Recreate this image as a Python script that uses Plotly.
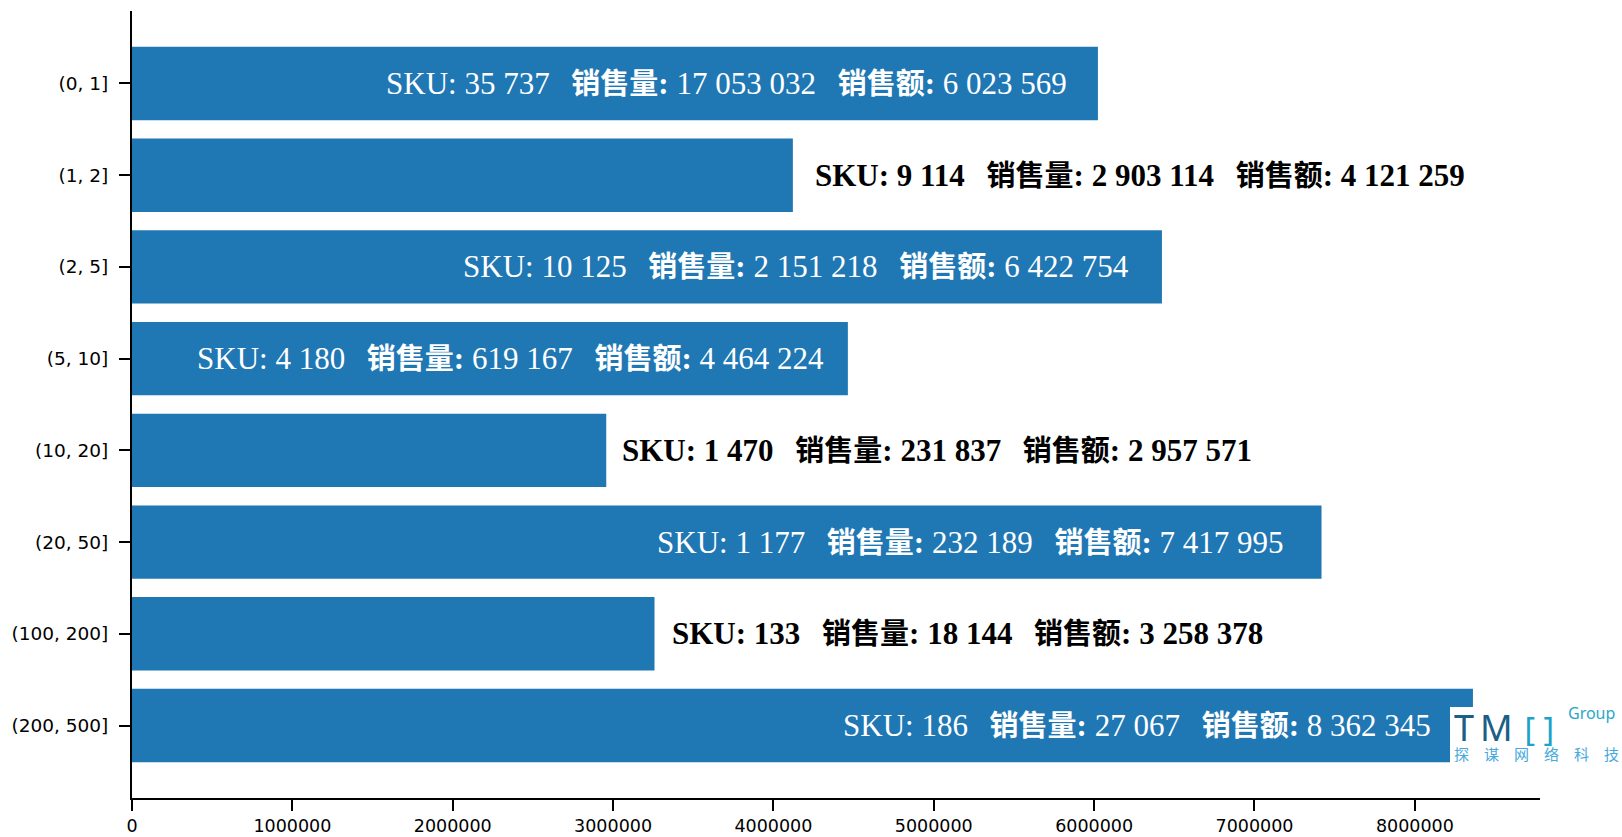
import plotly.graph_objects as go

categories = ["(0, 1]", "(1, 2]", "(2, 5]", "(5, 10]", "(10, 20]", "(20, 50]", "(100, 200]", "(200, 500]"]
sku = [35737, 9114, 10125, 4180, 1470, 1177, 133, 186]
qty = [17053032, 2903114, 2151218, 619167, 231837, 232189, 18144, 27067]
sales = [6023569, 4121259, 6422754, 4464224, 2957571, 7417995, 3258378, 8362345]
x_ticks = [0, 1000000, 2000000, 3000000, 4000000, 5000000, 6000000, 7000000, 8000000]

BAR = "#1f77b4"
L, R, T, B = 132, 82, 11, 39
W, H = 1622, 837
PW, PH = W - L - R, H - T - B


def fmt(v):
    return f"{v:,}".replace(",", " ")


def px(xp):
    return (xp - L) / PW


def py(yp):
    return (H - B - yp) / PH


fig = go.Figure(go.Bar(
    x=sales, y=categories, orientation="h",
    marker=dict(color=BAR, line=dict(width=0)),
    hoverinfo="skip",
))

SEP = "\u00a0\u00a0\u2009"


def cjk(s):
    return f'<b><span style="font-size:29px">{s}</span>:</b>'


annotations = []
for c, s, q, v in zip(categories, sku, qty, sales):
    inside = v > 4300000
    text = f"SKU: {fmt(s)}{SEP}{cjk('销售量')} {fmt(q)}{SEP}{cjk('销售额')} {fmt(v)}"
    if inside:
        annotations.append(dict(x=v * 0.97, y=c, xref="x", yref="y", text=text,
                                showarrow=False, xanchor="right", yanchor="middle",
                                font=dict(family="Liberation Serif, Noto Sans CJK SC", size=31, color="white")))
    else:
        annotations.append(dict(x=v * 1.03, y=c, xref="x", yref="y", text=f"<b>{text}</b>",
                                showarrow=False, xanchor="left", yanchor="middle",
                                font=dict(family="Liberation Serif, Noto Sans CJK SC", size=31, color="black")))

# logo (text-based)
annotations += [
    dict(x=px(1453), y=py(727), xref="paper", yref="paper",
         text='T\u2009M\u2009\u2009<span style="color:#1ba3c9;font-size:32px">[\u00a0]</span>',
         showarrow=False, xanchor="left", yanchor="middle", borderpad=0,
         font=dict(family="Noto Sans", size=36, color="#1b5f86")),
    dict(x=px(1567), y=py(713), xref="paper", yref="paper", text="Group", showarrow=False,
         xanchor="left", yanchor="middle", borderpad=0,
         font=dict(family="Noto Sans", size=16, color="#2aa5cc")),
    dict(x=px(1453), y=py(753), xref="paper", yref="paper",
         text="探\u2003谋\u2003网\u2003络\u2003科\u2003技", showarrow=False,
         xanchor="left", yanchor="middle", borderpad=0,
         font=dict(family="Noto Sans CJK SC", size=15, color="#45a9dc")),
]

shapes = [dict(type="rect", xref="paper", yref="paper", x0=px(1450), x1=px(1640),
               y0=py(772), y1=py(707), fillcolor="white", line=dict(width=0), layer="above")]

fig.update_layout(
    width=W, height=H,
    margin=dict(l=L, r=R, t=T, b=B, autoexpand=False),
    paper_bgcolor="white", plot_bgcolor="white",
    bargap=0.2, showlegend=False,
    annotations=annotations, shapes=shapes,
    font=dict(family="DejaVu Sans", size=18, color="black"),
)
fig.update_xaxes(
    range=[0, max(sales) * 1.05], tickvals=x_ticks, ticktext=[str(v) for v in x_ticks],
    showline=True, linecolor="black", linewidth=2, ticks="outside", ticklen=11,
    tickwidth=2, tickcolor="black", showgrid=False, zeroline=False,
    tickfont=dict(family="DejaVu Sans", size=17.5, color="black"), ticklabelstandoff=0,
)
fig.update_yaxes(
    type="category", range=[len(categories) - 1 + 0.79, -0.79],
    showline=True, linecolor="black", linewidth=2, ticks="outside", ticklen=11,
    tickwidth=2, tickcolor="black", showgrid=False, zeroline=False,
    tickfont=dict(family="DejaVu Sans", size=18.5, color="black"), ticklabelstandoff=7,
)

fig.write_html("out.html", config={"displayModeBar": False}, post_script=(
    "document.body.style.margin='0';document.body.style.overflow='hidden';"
    "document.documentElement.style.overflow='hidden';"))
